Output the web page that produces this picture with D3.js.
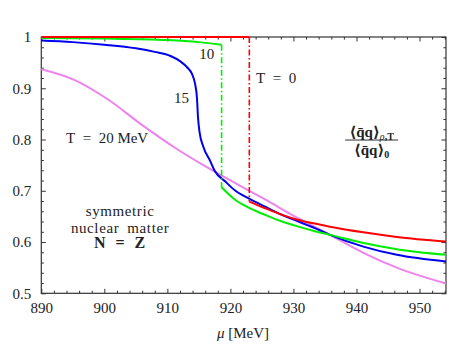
<!DOCTYPE html>
<html>
<head>
<meta charset="utf-8">
<script src="https://cdn.jsdelivr.net/npm/d3@7"></script>
<style>
    body { margin: 0; background: #fff; }
    #chart { width: 463px; height: 348px; }
</style>
</head>
<body>
<div id="chart"></div>
<script>

// axis ticks
let xMajorTicks = [890, 900, 910, 920, 930, 940, 950];
let yMajorTicks = [0.5, 0.6, 0.7, 0.8, 0.9, 1];
let yTickLabels = ["0.5", "0.6", "0.7", "0.8", "0.9", "1"];

// T = 0 (red): flat part, jump, falling part
let muT0Top = [890, 923.0];
let valT0Top = [1, 1];
let muT0Low = [923.0, 925.5, 928.2, 930.8, 933.4, 935.8, 941.1, 946.4, 954.2];
let valT0Low = [0.679, 0.666, 0.653, 0.643, 0.636, 0.630, 0.619, 0.610, 0.601];

// T = 10 MeV (green)
let muT10Top = [890, 900, 910, 915, 918.6];
let valT10Top = [0.998, 0.997, 0.994, 0.990, 0.985];
let muT10Low = [918.6, 920.7, 922.9, 925.5, 928.2, 930.8, 933.4, 935.8, 941.1, 946.4, 954.2];
let valT10Low = [0.707, 0.683, 0.667, 0.653, 0.640, 0.630, 0.621, 0.614, 0.598, 0.586, 0.575];

// T = 15 MeV (blue)
let muT15 = [890, 895, 900, 905, 908, 910.5, 912, 913.2, 913.9, 914.4, 914.7, 914.85, 915.1, 915.7,
    916.8, 917.5, 919.2, 920.7, 922.9, 925.5, 928.2, 930.8, 933.4, 935.8, 941.1, 946.4, 954.2];
let valT15 = [0.993, 0.990, 0.985, 0.978, 0.971, 0.963, 0.953, 0.940, 0.928, 0.908, 0.880, 0.845, 0.815, 0.786,
    0.758, 0.739, 0.718, 0.701, 0.685, 0.669, 0.653, 0.640, 0.627, 0.614, 0.591, 0.575, 0.562];

// T = 20 MeV (violet)
let muT20 = [890, 895.3, 900.6, 905.9, 911.2, 916.4, 921.2, 925.5, 930.8, 935.8, 941.1, 946.4, 954.2];
let valT20 = [0.937, 0.916, 0.878, 0.829, 0.784, 0.745, 0.712, 0.683, 0.646, 0.614, 0.579, 0.550, 0.519];

// annotations (mu, value, text)
let labelMu = [915.06, 911.05, 893.92, 924.06];
let labelVal = [0.9565, 0.8707, 0.7926, 0.9097];
let labelText = ["10", "15", "T\u2002=\u200220 MeV", "T\u2002=\u20020"];

let noteMu = 902.5;
let noteVal = [0.6514, 0.6182, 0.5878];
let noteText = ["symmetric", "nuclear\u2002matter", "N\u2002=\u2002Z"];

const FONT = "'Liberation Serif', 'DejaVu Serif', serif";

// inline font styling, so nothing else can override it
function font(sel, size, weight, style) {
    sel.style("font-family", FONT, "important")
        .style("font-size", size + "px", "important")
        .style("font-weight", weight || "normal", "important")
        .style("font-style", style || "normal", "important");
    return sel;
}


class LineChart {

    constructor(parentElement) {
        this.parentElement = parentElement;
        this.initVis();
    }

    initVis() {
        let vis = this;

        // margin conventions
        vis.margin = {top: 37, right: 17, bottom: 54.7, left: 41.3};
        vis.width = 463 - vis.margin.left - vis.margin.right;
        vis.height = 348 - vis.margin.top - vis.margin.bottom;

        vis.svg = d3.select("#" + vis.parentElement).append("svg")
            .attr("width", 463)
            .attr("height", 348);

        vis.g = vis.svg.append("g")
            .attr("transform", `translate(${vis.margin.left},${vis.margin.top})`);

        vis.x = d3.scaleLinear().domain([890, 954.2]).range([0, vis.width]);
        vis.y = d3.scaleLinear().domain([0.5, 1]).range([vis.height, 0]);

        let axisColor = "#333";
        let xMinor = d3.range(890, 955, 2).filter(d => d % 10 !== 0);
        let yMinor = d3.range(25, 50).map(d => d / 50).filter(d => Math.round(d * 50) % 5 !== 0);

        // major + minor ticks on all four sides, pointing inward
        let axes = [
            {ax: d3.axisBottom(vis.x).tickValues(xMajorTicks).tickSize(-4.5), t: `translate(0,${vis.height})`, lab: true},
            {ax: d3.axisBottom(vis.x).tickValues(xMinor).tickSize(-2.6), t: `translate(0,${vis.height})`},
            {ax: d3.axisTop(vis.x).tickValues(xMajorTicks).tickSize(-4.5), t: null},
            {ax: d3.axisTop(vis.x).tickValues(xMinor).tickSize(-2.6), t: null},
            {ax: d3.axisLeft(vis.y).tickValues(yMajorTicks).tickSize(-4.5), t: null, lab: true},
            {ax: d3.axisLeft(vis.y).tickValues(yMinor).tickSize(-2.6), t: null},
            {ax: d3.axisRight(vis.y).tickValues(yMajorTicks).tickSize(-4.5), t: `translate(${vis.width},0)`},
            {ax: d3.axisRight(vis.y).tickValues(yMinor).tickSize(-2.6), t: `translate(${vis.width},0)`}
        ];

        axes.forEach((a, i) => {
            if (!a.lab) a.ax.tickFormat("");
            let gAx = vis.g.append("g").attr("class", "axis axis-" + i);
            if (a.t) gAx.attr("transform", a.t);
            gAx.call(a.ax);
            gAx.select(".domain").remove();
            gAx.selectAll("line").attr("stroke", axisColor).attr("stroke-width", 1);
        });

        // tick label styling
        vis.g.select(".axis-0").selectAll("text")
            .attr("y", 20)
            .attr("dy", null)
            .attr("fill", "#222")
            .call(font, 15);

        vis.g.select(".axis-4").selectAll("text")
            .attr("x", -10)
            .attr("dy", "0.32em")
            .attr("fill", "#222")
            .call(font, 15)
            .text(d => yTickLabels[yMajorTicks.indexOf(d)]);

        // frame
        vis.g.append("rect")
            .attr("width", vis.width)
            .attr("height", vis.height)
            .attr("fill", "none")
            .attr("stroke", axisColor)
            .attr("stroke-width", 1.2);

        // x title
        let title = vis.svg.append("text")
            .attr("x", 243)
            .attr("y", 338)
            .attr("text-anchor", "middle")
            .attr("fill", "#222")
            .call(font, 15);
        title.append("tspan").call(font, 15, "normal", "italic").text("\u03bc");
        title.append("tspan").text(" [MeV]");

        vis.line = d3.line()
            .x(d => vis.x(d[0]))
            .y(d => vis.y(d[1]))
            .curve(d3.curveMonotoneX);

        let zip = (a, b) => a.map((d, i) => [d, b[i]]);

        // solid curves
        let curves = [
            {pts: zip(muT20, valT20), color: "violet"},
            {pts: zip(muT15, valT15), color: "#0000f0"},
            {pts: zip(muT10Top, valT10Top), color: "#00ee00"},
            {pts: zip(muT10Low, valT10Low), color: "#00ee00"},
            {pts: zip(muT0Low, valT0Low), color: "#ff0000"},
            {pts: zip(muT0Top, valT0Top), color: "#ff0000"}
        ];

        vis.g.append("g")
            .selectAll("path")
            .data(curves)
            .join("path")
            .attr("d", d => vis.line(d.pts))
            .attr("fill", "none")
            .attr("stroke", d => d.color)
            .attr("stroke-width", 2);

        // jumps (dash-dot)
        let jumps = [
            {mu: muT10Top[muT10Top.length - 1], v0: valT10Top[valT10Top.length - 1], v1: valT10Low[0], color: "#00ee00"},
            {mu: muT0Top[muT0Top.length - 1], v0: valT0Top[valT0Top.length - 1], v1: valT0Low[0], color: "#ff0000"}
        ];

        vis.g.append("g")
            .selectAll("line")
            .data(jumps)
            .join("line")
            .attr("x1", d => vis.x(d.mu))
            .attr("x2", d => vis.x(d.mu))
            .attr("y1", d => vis.y(d.v0))
            .attr("y2", d => vis.y(d.v1))
            .attr("stroke", d => d.color)
            .attr("stroke-width", 1.6)
            .attr("stroke-dasharray", "6,2.5,1.5,2.5");

        // curve labels
        vis.g.append("g")
            .selectAll("text")
            .data(labelText)
            .join("text")
            .attr("x", (d, i) => vis.x(labelMu[i]))
            .attr("y", (d, i) => vis.y(labelVal[i]))
            .attr("fill", "#222")
            .call(font, 15)
            .text(d => d);

        vis.g.append("g")
            .attr("text-anchor", "middle")
            .selectAll("text")
            .data(noteText)
            .join("text")
            .attr("x", vis.x(noteMu))
            .attr("y", (d, i) => vis.y(noteVal[i]))
            .attr("letter-spacing", (d, i) => i === 2 ? 1 : 0.6)
            .attr("fill", "#222")
            .each(function (d, i) {
                font(d3.select(this), i === 2 ? 16 : 15, i === 2 ? "bold" : "normal");
            })
            .text(d => d);

        // ratio <qq>_{rho,T} / <qq>_0
        let fx = vis.x(942.4);
        let num = vis.g.append("text")
            .attr("x", fx)
            .attr("y", vis.y(0.8055))
            .attr("text-anchor", "middle")
            .attr("fill", "#222")
            .call(font, 15, "bold");
        num.append("tspan").text("\u27e8q\u0304q\u27e9");
        num.append("tspan").attr("dy", 3).call(font, 10, "normal", "italic").text("\u03c1");
        num.append("tspan").call(font, 10, "bold").text(",T");

        vis.g.append("line")
            .attr("x1", fx - 26.5)
            .attr("x2", fx + 26.5)
            .attr("y1", vis.y(0.799))
            .attr("y2", vis.y(0.799))
            .attr("stroke", "#333")
            .attr("stroke-width", 1);

        let den = vis.g.append("text")
            .attr("x", fx)
            .attr("y", vis.y(0.7698))
            .attr("text-anchor", "middle")
            .attr("fill", "#222")
            .call(font, 15, "bold");
        den.append("tspan").text("\u27e8q\u0304q\u27e9");
        den.append("tspan").attr("dy", 3).call(font, 10, "bold").text("0");
    }
}

new LineChart("chart");
</script>
</body>
</html>
